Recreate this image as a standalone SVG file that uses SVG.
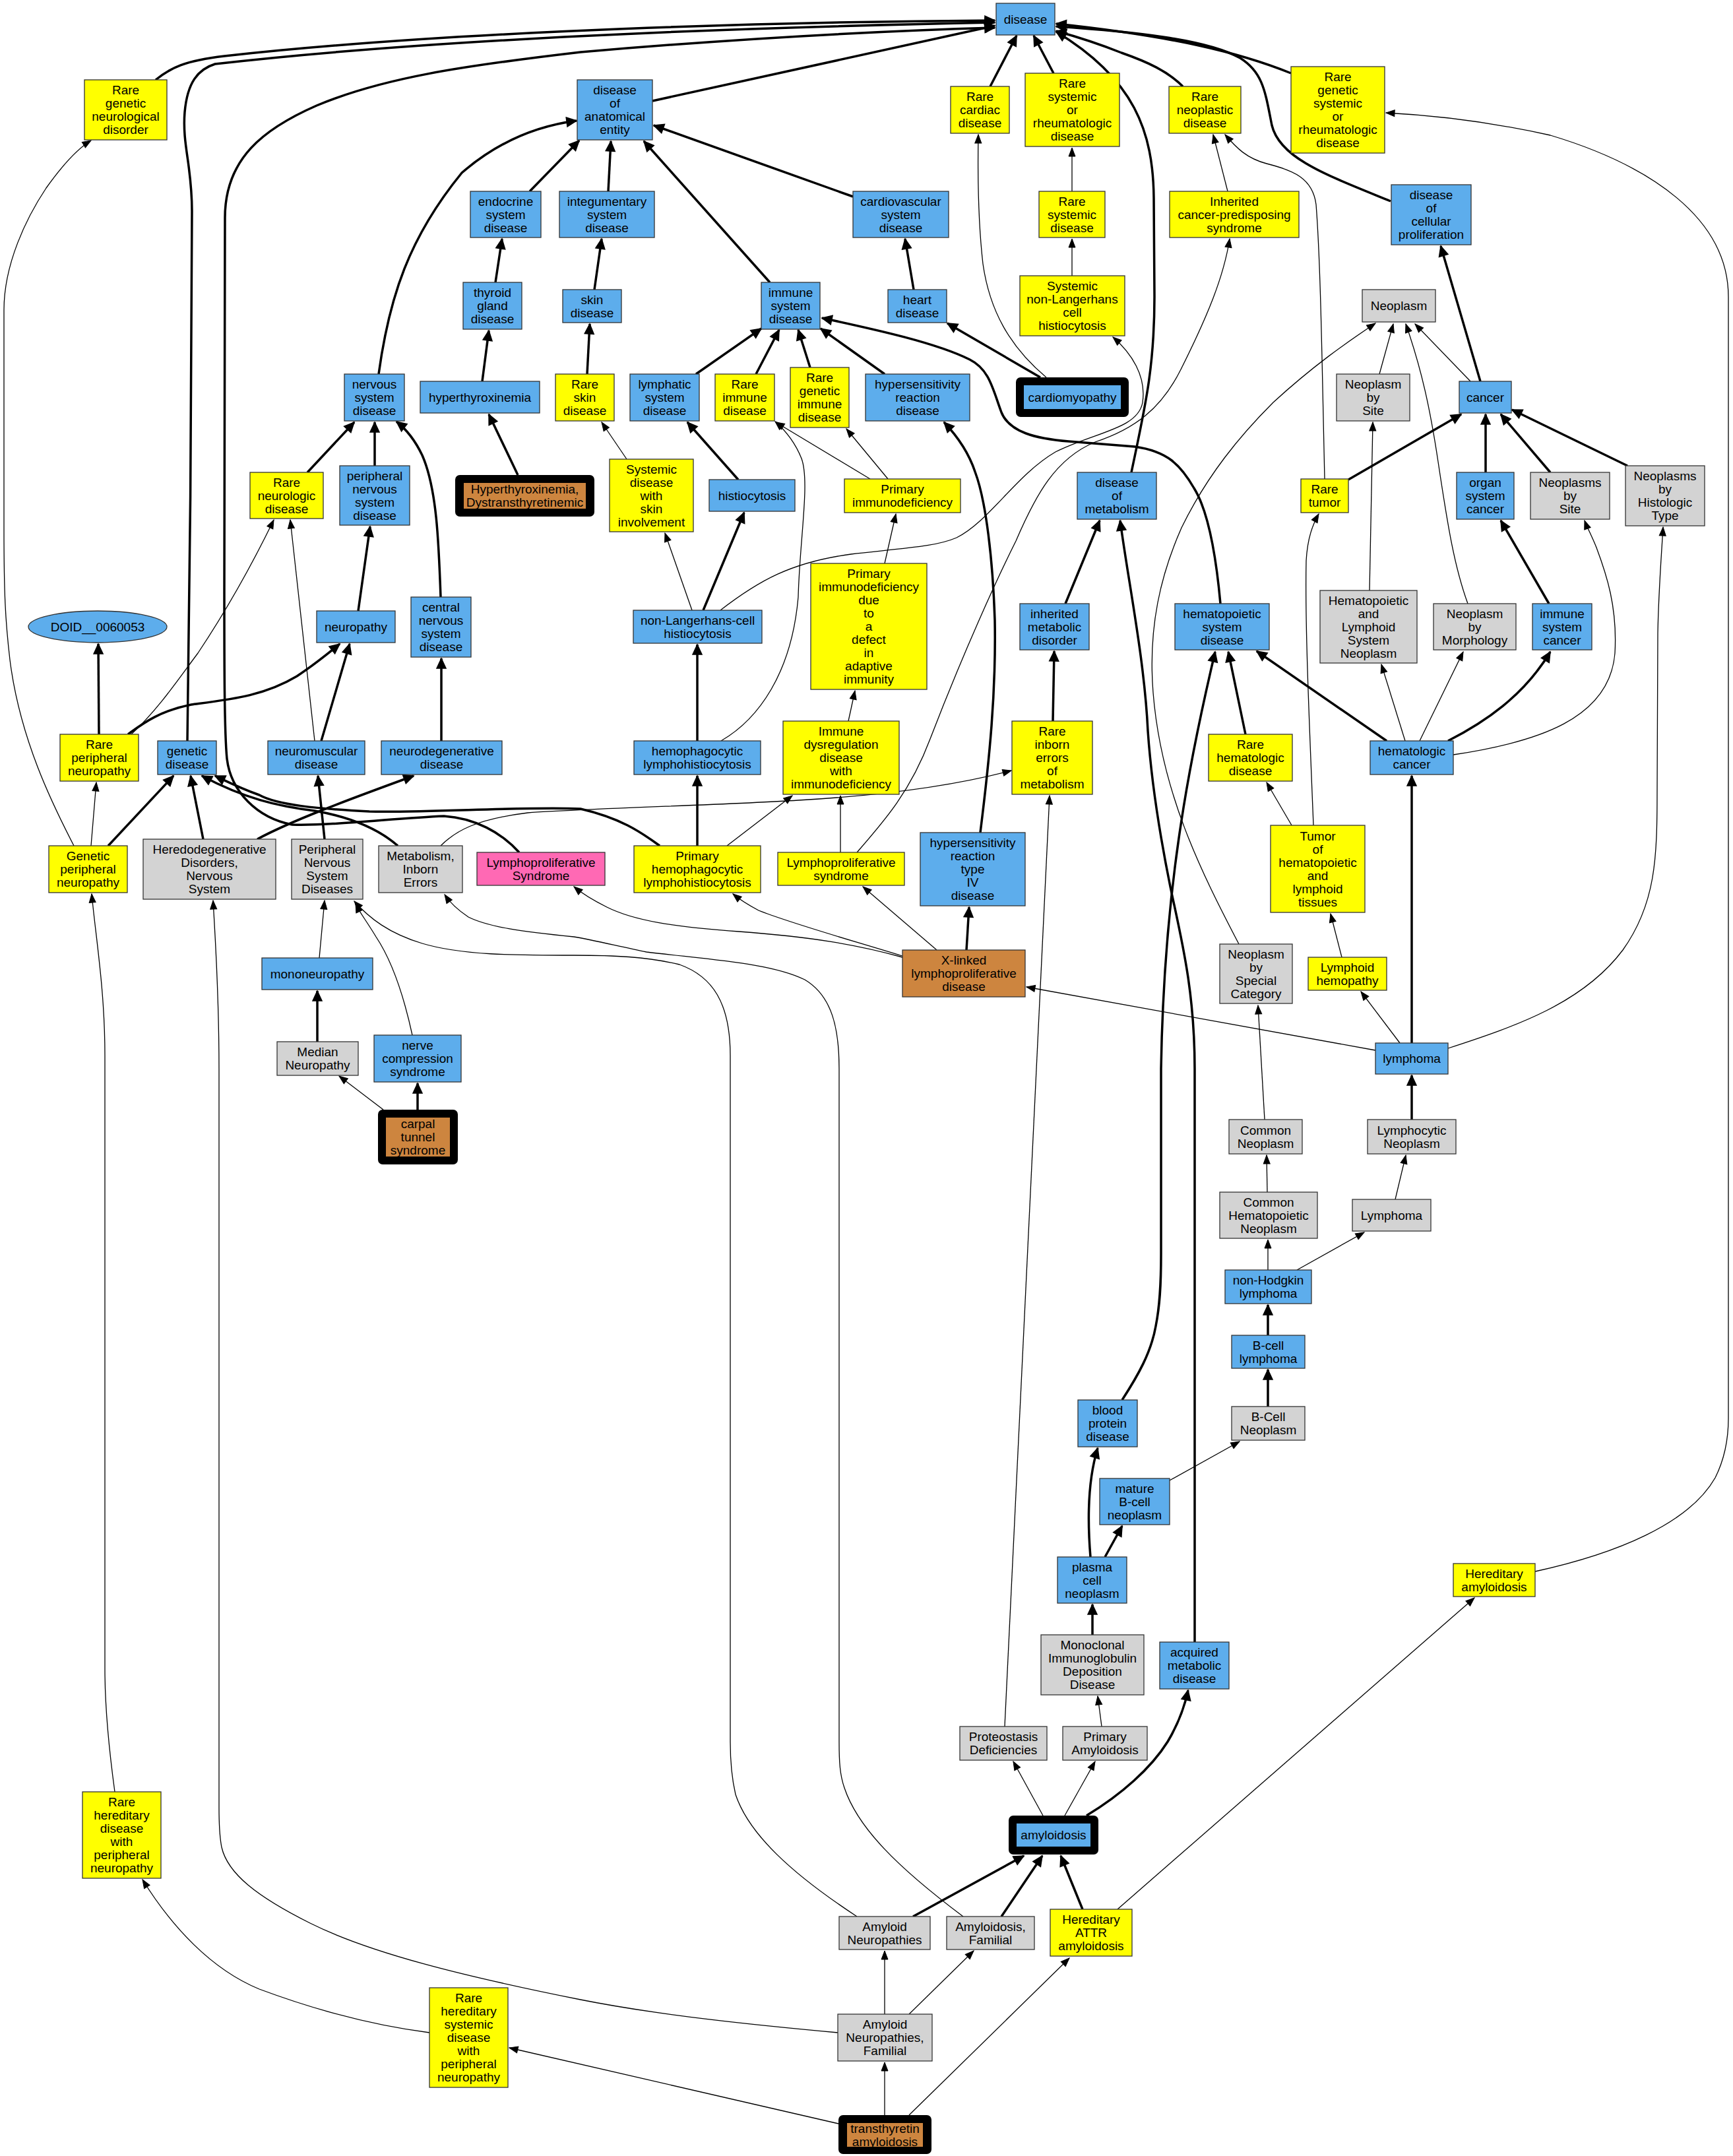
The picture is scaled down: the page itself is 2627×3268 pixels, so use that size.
<svg xmlns="http://www.w3.org/2000/svg" width="2627" height="3268" viewBox="0 0 2627 3268">
<style>
.nd rect,.nd ellipse{stroke:#333;stroke-width:1.3}
.nd rect.ni{stroke:none}
.nd rect.hl{fill:#000;stroke:none}
.b{fill:#5DADEC}.y{fill:#FFFF00}.g{fill:#D3D3D3}.o{fill:#CD853F}.p{fill:#FF69B4}
text{font-family:"Liberation Sans",Arial,Helvetica,sans-serif;font-size:19px;text-anchor:middle;fill:#000}
.e{fill:none;stroke:#000;stroke-width:1.3;marker-end:url(#ah)}
.t{fill:none;stroke:#000;stroke-width:3.5;marker-end:url(#at)}
</style>
<defs>
<marker id="ah" viewBox="-1 -7 16 14" refX="13" refY="0" markerWidth="16" markerHeight="14" markerUnits="userSpaceOnUse" orient="auto"><path d="M0,-5 L13,0 L0,5 z" fill="#000" stroke="#000" stroke-width="1"/></marker>
<marker id="at" viewBox="-2 -10 20 20" refX="15" refY="0" markerWidth="20" markerHeight="20" markerUnits="userSpaceOnUse" orient="auto"><path d="M0,-7 L15,0 L0,7 z" fill="#000" stroke="#000" stroke-width="1.5"/></marker>
</defs>
<rect x="0" y="0" width="2627" height="3268" fill="#fff"/>
<g id="edges">
<path class="t" d="M236,121 C258,103 280,92 340,85 C700,45 1200,33 1508,31"/>
<path class="t" d="M284,1123 C288,900 291,500 291,320 C291,250 276,220 280,170 C284,125 300,105 326,97 C650,60 1100,42 1508,34"/>
<path class="t" d="M787,1292 C760,1262 720,1240 673,1237 C600,1240 500,1252 443,1250 C390,1240 350,1200 344,1150 C340,1110 340,1000 340,900 L341,330 C341,240 400,195 480,160 C580,118 700,100 880,79 C1100,60 1300,48 1508,42"/>
<path class="t" d="M989,153 L1508,39"/>
<path class="t" d="M1501,131 L1541,54"/>
<path class="t" d="M1597,111 L1567,54"/>
<path class="t" d="M1793,131 C1770,108 1740,94 1700,80 C1670,68 1630,55 1601,47"/>
<path class="t" d="M2108,305 C2010,265 1940,240 1928,190 C1918,140 1915,110 1880,88 C1830,60 1720,48 1601,40"/>
<path class="t" d="M1957,111 C1880,80 1780,55 1601,36"/>
<path class="t" d="M1715,716 C1735,620 1750,560 1750,450 L1749,300 C1748,200 1720,120 1601,48"/>
<path class="t" d="M803,290 L878,213"/>
<path class="t" d="M922,290 L926,214"/>
<path class="t" d="M1167,428 L976,214"/>
<path class="t" d="M1293,298 L991,190"/>
<path class="t" d="M574,567 C590,450 620,360 700,262 C760,210 820,190 874,183"/>
<path class="t" d="M751,428 L761,362"/>
<path class="t" d="M731,578 L741,501"/>
<path class="t" d="M785,720 L741,628"/>
<path class="t" d="M901,439 L912,362"/>
<path class="t" d="M890,567 L894,491"/>
<path class="t" d="M1385,439 L1372,362"/>
<path class="t" d="M1577,572 L1436,490"/>
<path class="t" d="M1055,567 L1154,498"/>
<path class="t" d="M1146,567 L1181,500"/>
<path class="t" d="M1228,557 L1210,500"/>
<path class="t" d="M1341,567 L1244,498"/>
<path class="t" d="M1850,915 C1845,860 1835,780 1810,740 C1790,705 1770,684 1720,677 L1620,669 C1570,665 1530,655 1518,625 C1505,590 1500,560 1470,545 C1420,520 1330,500 1246,482"/>
<path class="t" d="M1119,727 L1042,640"/>
<path class="t" d="M1066,925 L1128,777"/>
<path class="t" d="M1057,1123 L1057,977"/>
<path class="t" d="M1057,1282 L1057,1176"/>
<path class="t" d="M1486,1262 C1500,1150 1510,1050 1508,940 C1505,850 1495,760 1478,715 C1468,685 1450,660 1431,640"/>
<path class="t" d="M1000,1282 C970,1260 940,1240 880,1226 C800,1222 650,1232 560,1230 C480,1226 420,1220 393,1205 C365,1195 345,1185 326,1176"/>
<path class="t" d="M603,1282 C580,1262 540,1240 477,1229 C420,1222 370,1210 306,1176"/>
<path class="t" d="M164,1282 L263,1176"/>
<path class="t" d="M308,1272 L289,1176"/>
<path class="t" d="M390,1272 C440,1245 520,1215 627,1176"/>
<path class="t" d="M150,1113 L149,976"/>
<path class="t" d="M194,1113 C215,1098 240,1078 290,1068 C350,1060 400,1055 450,1025 C480,1005 500,988 515,976"/>
<path class="t" d="M487,1123 L530,976"/>
<path class="t" d="M492,1272 L482,1176"/>
<path class="t" d="M543,926 L561,798"/>
<path class="t" d="M668,905 C665,820 662,740 640,690 C628,665 615,650 601,639"/>
<path class="t" d="M568,706 L568,640"/>
<path class="t" d="M466,716 L537,640"/>
<path class="t" d="M669,1123 L669,998"/>
<path class="t" d="M481,1579 L481,1502"/>
<path class="t" d="M633,1682 L633,1642"/>
<path class="t" d="M2244,578 L2184,373"/>
<path class="t" d="M2044,727 L2215,628"/>
<path class="t" d="M2252,716 L2252,628"/>
<path class="t" d="M2350,716 L2275,628"/>
<path class="t" d="M2467,706 L2292,621"/>
<path class="t" d="M2348,915 L2275,789"/>
<path class="t" d="M2102,1123 L1905,987"/>
<path class="t" d="M2195,1123 C2250,1095 2310,1055 2350,988"/>
<path class="t" d="M1888,1113 L1862,988"/>
<path class="t" d="M2140,1581 L2140,1176"/>
<path class="t" d="M2140,1697 L2140,1630"/>
<path class="t" d="M1922,2024 L1922,1978"/>
<path class="t" d="M1922,2132 L1922,2076"/>
<path class="t" d="M1701,2122 C1725,2085 1745,2050 1752,2010 C1758,1980 1760,1950 1760,1900 L1760,1620 C1762,1500 1770,1380 1790,1250 C1805,1150 1825,1060 1842,988"/>
<path class="t" d="M1811,2489 L1811,1620 C1811,1500 1790,1420 1774,1344 C1755,1250 1745,1180 1740,1108 C1735,1000 1710,880 1698,789"/>
<path class="t" d="M1596,1093 L1598,987"/>
<path class="t" d="M1615,915 L1667,789"/>
<path class="t" d="M1465,1440 L1469,1375"/>
<path class="t" d="M1675,2360 L1701,2313"/>
<path class="t" d="M1653,2360 C1648,2300 1650,2240 1664,2195"/>
<path class="t" d="M1656,2478 L1656,2432"/>
<path class="t" d="M1647,2752 C1700,2720 1745,2680 1770,2640 C1785,2615 1795,2590 1801,2562"/>
<path class="t" d="M1384,2905 L1552,2813"/>
<path class="t" d="M1518,2905 L1580,2813"/>
<path class="t" d="M1641,2894 L1608,2813"/>
<path class="e" d="M1586,572 C1530,525 1500,470 1490,400 C1482,330 1482,260 1483,204"/>
<path class="e" d="M1625,290 L1625,224"/>
<path class="e" d="M1625,418 L1625,362"/>
<path class="e" d="M1092,925 C1150,880 1200,852 1290,840 C1380,830 1420,828 1450,815 C1500,790 1540,720 1600,685 C1660,655 1725,650 1732,610 C1738,570 1715,535 1687,511"/>
<path class="e" d="M1299,1292 C1340,1245 1380,1200 1410,1120 C1460,990 1510,880 1540,820 C1570,750 1600,695 1660,670 C1720,650 1760,620 1790,560 C1830,480 1855,420 1864,362"/>
<path class="e" d="M950,696 L912,640"/>
<path class="e" d="M1319,726 L1176,640"/>
<path class="e" d="M1346,726 L1283,650"/>
<path class="e" d="M1093,1123 C1150,1090 1200,1020 1210,905 C1212,820 1228,730 1215,695 C1205,670 1190,652 1175,639"/>
<path class="e" d="M1341,854 L1358,779"/>
<path class="e" d="M1049,925 L1008,808"/>
<path class="e" d="M1102,1282 L1201,1206"/>
<path class="e" d="M1286,1093 L1296,1047"/>
<path class="e" d="M1274,1292 L1274,1206"/>
<path class="e" d="M668,1282 C690,1260 720,1242 800,1232 C900,1225 1100,1220 1210,1213 C1350,1205 1450,1190 1533,1168"/>
<path class="e" d="M1420,1440 L1308,1344"/>
<path class="e" d="M1368,1449 C1290,1425 1200,1400 1150,1380 C1135,1372 1122,1364 1111,1355"/>
<path class="e" d="M1368,1451 C1300,1432 1230,1420 1120,1412 C1020,1405 960,1395 920,1375 C900,1365 882,1354 870,1344"/>
<path class="e" d="M2085,1592 L1556,1496"/>
<path class="e" d="M1299,2905 C1200,2840 1135,2780 1115,2720 C1108,2690 1107,2660 1107,2640 L1107,1600 C1107,1520 1080,1480 1030,1462 C980,1450 930,1448 870,1448 C780,1448 700,1448 640,1430 C590,1415 560,1392 537,1366"/>
<path class="e" d="M1460,2905 C1360,2830 1300,2770 1280,2710 C1273,2690 1272,2670 1272,2640 L1272,1620 C1272,1560 1262,1510 1220,1485 C1170,1460 1080,1455 980,1443 C940,1435 900,1425 870,1420 C790,1412 740,1405 710,1390 C695,1380 682,1368 674,1356"/>
<path class="e" d="M1270,3081 C1150,3070 1000,3055 880,3031 C700,2995 560,2960 470,2915 C390,2875 345,2840 336,2800 C333,2785 332,2770 332,2740 L332,1620 C332,1500 326,1420 323,1365"/>
<path class="e" d="M1271,3219 L772,3104"/>
<path class="e" d="M651,3081 C550,3068 460,3040 393,3015 C320,2985 260,2920 216,2849"/>
<path class="e" d="M174,2716 C165,2650 159,2580 159,2530 L159,1600 C159,1500 145,1420 139,1355"/>
<path class="e" d="M112,1282 C80,1220 30,1120 15,1000 C8,940 6,900 6,800 L6,470 C6,400 40,330 70,285 C95,250 118,225 138,213"/>
<path class="e" d="M138,1282 L146,1186"/>
<path class="e" d="M199,1113 C240,1075 270,1030 300,990 C340,930 380,860 415,788"/>
<path class="e" d="M477,1123 L440,788"/>
<path class="e" d="M484,1452 L492,1365"/>
<path class="e" d="M625,1569 C610,1500 590,1450 570,1420 C555,1395 545,1383 539,1370"/>
<path class="e" d="M581,1682 L514,1631"/>
<path class="e" d="M1861,290 L1839,204"/>
<path class="e" d="M2008,726 C2004,550 2002,400 1995,310 C1990,270 1960,258 1920,248 C1890,240 1875,225 1857,204"/>
<path class="e" d="M2229,578 L2145,491"/>
<path class="e" d="M2091,567 L2112,491"/>
<path class="e" d="M2225,915 C2205,860 2195,800 2180,700 C2168,620 2155,560 2131,491"/>
<path class="e" d="M1878,1431 C1820,1320 1760,1200 1748,1050 C1740,950 1760,870 1791,800 C1830,720 1880,660 1930,610 C1990,555 2040,520 2085,490"/>
<path class="e" d="M2076,895 L2081,640"/>
<path class="e" d="M2203,1144 C2330,1125 2440,1090 2448,990 C2452,920 2435,870 2420,830 C2412,810 2406,800 2402,789"/>
<path class="e" d="M2195,1589 C2300,1555 2400,1520 2460,1440 C2510,1370 2512,1300 2512,1200 L2513,960 C2514,900 2518,850 2521,799"/>
<path class="e" d="M2130,1123 L2094,1007"/>
<path class="e" d="M2152,1123 L2218,988"/>
<path class="e" d="M1958,1251 L1920,1186"/>
<path class="e" d="M1991,1251 C1985,1100 1978,950 1980,850 C1982,815 1990,795 1999,779"/>
<path class="e" d="M2034,1451 L2017,1385"/>
<path class="e" d="M2122,1581 L2063,1503"/>
<path class="e" d="M1917,1697 L1907,1524"/>
<path class="e" d="M1921,1807 L1920,1751"/>
<path class="e" d="M2115,1818 L2131,1751"/>
<path class="e" d="M1922,1925 L1922,1879"/>
<path class="e" d="M1966,1925 L2068,1868"/>
<path class="e" d="M1773,2244 L1879,2185"/>
<path class="e" d="M1670,2617 L1664,2571"/>
<path class="e" d="M1581,2752 L1536,2670"/>
<path class="e" d="M1614,2752 L1660,2670"/>
<path class="e" d="M1523,2617 L1591,1206"/>
<path class="e" d="M1694,2894 L2235,2422"/>
<path class="e" d="M2327,2382 C2450,2355 2560,2310 2600,2240 C2615,2210 2620,2180 2620,2150 L2620,450 C2620,330 2500,250 2350,205 C2260,185 2180,175 2101,171"/>
<path class="e" d="M1341,3206 L1341,3126"/>
<path class="e" d="M1378,3206 L1621,2968"/>
<path class="e" d="M1341,3053 L1341,2957"/>
<path class="e" d="M1378,3053 L1476,2957"/>
</g>
<g id="nodes">
<g id="n1" class="nd"><rect class="b" x="1510" y="5" width="89" height="48"/><text x="1554.5" y="35.7">disease</text></g>
<g id="n2" class="nd"><rect class="b" x="875" y="121" width="114" height="91"/><text x="932"><tspan x="932" y="143.2">disease</tspan><tspan x="932" y="163.2">of</tspan><tspan x="932" y="183.2">anatomical</tspan><tspan x="932" y="203.2">entity</tspan></text></g>
<g id="n3" class="nd"><rect class="y" x="128" y="121" width="125" height="91"/><text x="190.5"><tspan x="190.5" y="143.2">Rare</tspan><tspan x="190.5" y="163.2">genetic</tspan><tspan x="190.5" y="183.2">neurological</tspan><tspan x="190.5" y="203.2">disorder</tspan></text></g>
<g id="n4" class="nd"><rect class="y" x="1441" y="131" width="89" height="71"/><text><tspan x="1485.5" y="153.2">Rare</tspan><tspan x="1485.5" y="173.2">cardiac</tspan><tspan x="1485.5" y="193.2">disease</tspan></text></g>
<g id="n5" class="nd"><rect class="y" x="1554" y="111" width="143" height="111"/><text><tspan x="1625.5" y="133.2">Rare</tspan><tspan x="1625.5" y="153.2">systemic</tspan><tspan x="1625.5" y="173.2">or</tspan><tspan x="1625.5" y="193.2">rheumatologic</tspan><tspan x="1625.5" y="213.2">disease</tspan></text></g>
<g id="n6" class="nd"><rect class="y" x="1772" y="131" width="109" height="71"/><text><tspan x="1826.5" y="153.2">Rare</tspan><tspan x="1826.5" y="173.2">neoplastic</tspan><tspan x="1826.5" y="193.2">disease</tspan></text></g>
<g id="n7" class="nd"><rect class="y" x="1957" y="101" width="142" height="131"/><text><tspan x="2028" y="123.2">Rare</tspan><tspan x="2028" y="143.2">genetic</tspan><tspan x="2028" y="163.2">systemic</tspan><tspan x="2028" y="183.2">or</tspan><tspan x="2028" y="203.2">rheumatologic</tspan><tspan x="2028" y="223.2">disease</tspan></text></g>
<g id="n8" class="nd"><rect class="b" x="713" y="290" width="107" height="70"/><text><tspan x="766.5" y="311.7">endocrine</tspan><tspan x="766.5" y="331.7">system</tspan><tspan x="766.5" y="351.7">disease</tspan></text></g>
<g id="n9" class="nd"><rect class="b" x="848" y="290" width="144" height="70"/><text><tspan x="920" y="311.7">integumentary</tspan><tspan x="920" y="331.7">system</tspan><tspan x="920" y="351.7">disease</tspan></text></g>
<g id="n10" class="nd"><rect class="b" x="1293" y="290" width="145" height="70"/><text><tspan x="1365.5" y="311.7">cardiovascular</tspan><tspan x="1365.5" y="331.7">system</tspan><tspan x="1365.5" y="351.7">disease</tspan></text></g>
<g id="n11" class="nd"><rect class="y" x="1575" y="290" width="100" height="70"/><text><tspan x="1625" y="311.7">Rare</tspan><tspan x="1625" y="331.7">systemic</tspan><tspan x="1625" y="351.7">disease</tspan></text></g>
<g id="n12" class="nd"><rect class="y" x="1773" y="290" width="196" height="70"/><text><tspan x="1871" y="311.7">Inherited</tspan><tspan x="1871" y="331.7">cancer-predisposing</tspan><tspan x="1871" y="351.7">syndrome</tspan></text></g>
<g id="n13" class="nd"><rect class="b" x="2109" y="280" width="121" height="91"/><text><tspan x="2169.5" y="302.2">disease</tspan><tspan x="2169.5" y="322.2">of</tspan><tspan x="2169.5" y="342.2">cellular</tspan><tspan x="2169.5" y="362.2">proliferation</tspan></text></g>
<g id="n14" class="nd"><rect class="b" x="702" y="428" width="89" height="71"/><text><tspan x="746.5" y="450.2">thyroid</tspan><tspan x="746.5" y="470.2">gland</tspan><tspan x="746.5" y="490.2">disease</tspan></text></g>
<g id="n15" class="nd"><rect class="b" x="853" y="439" width="89" height="50"/><text><tspan x="897.5" y="460.7">skin</tspan><tspan x="897.5" y="480.7">disease</tspan></text></g>
<g id="n16" class="nd"><rect class="b" x="1154" y="428" width="89" height="71"/><text><tspan x="1198.5" y="450.2">immune</tspan><tspan x="1198.5" y="470.2">system</tspan><tspan x="1198.5" y="490.2">disease</tspan></text></g>
<g id="n17" class="nd"><rect class="b" x="1346" y="439" width="89" height="50"/><text><tspan x="1390.5" y="460.7">heart</tspan><tspan x="1390.5" y="480.7">disease</tspan></text></g>
<g id="n18" class="nd"><rect class="y" x="1546" y="418" width="159" height="91"/><text><tspan x="1625.5" y="440.2">Systemic</tspan><tspan x="1625.5" y="460.2">non-Langerhans</tspan><tspan x="1625.5" y="480.2">cell</tspan><tspan x="1625.5" y="500.2">histiocytosis</tspan></text></g>
<g id="n19" class="nd"><rect class="g" x="2065" y="439" width="111" height="49"/><text x="2120.5" y="470.2">Neoplasm</text></g>
<g id="n20" class="nd"><rect class="b" x="522" y="567" width="91" height="71"/><text><tspan x="567.5" y="589.2">nervous</tspan><tspan x="567.5" y="609.2">system</tspan><tspan x="567.5" y="629.2">disease</tspan></text></g>
<g id="n21" class="nd"><rect class="b" x="637" y="578" width="181" height="48"/><text x="727.5" y="608.7">hyperthyroxinemia</text></g>
<g id="n22" class="nd"><rect class="y" x="842" y="567" width="89" height="71"/><text><tspan x="886.5" y="589.2">Rare</tspan><tspan x="886.5" y="609.2">skin</tspan><tspan x="886.5" y="629.2">disease</tspan></text></g>
<g id="n23" class="nd"><rect class="b" x="955" y="567" width="105" height="71"/><text><tspan x="1007.5" y="589.2">lymphatic</tspan><tspan x="1007.5" y="609.2">system</tspan><tspan x="1007.5" y="629.2">disease</tspan></text></g>
<g id="n24" class="nd"><rect class="y" x="1084" y="567" width="90" height="71"/><text><tspan x="1129" y="589.2">Rare</tspan><tspan x="1129" y="609.2">immune</tspan><tspan x="1129" y="629.2">disease</tspan></text></g>
<g id="n25" class="nd"><rect class="y" x="1198" y="557" width="89" height="91"/><text><tspan x="1242.5" y="579.2">Rare</tspan><tspan x="1242.5" y="599.2">genetic</tspan><tspan x="1242.5" y="619.2">immune</tspan><tspan x="1242.5" y="639.2">disease</tspan></text></g>
<g id="n26" class="nd"><rect class="b" x="1312" y="567" width="158" height="71"/><text><tspan x="1391" y="589.2">hypersensitivity</tspan><tspan x="1391" y="609.2">reaction</tspan><tspan x="1391" y="629.2">disease</tspan></text></g>
<g id="n27" class="nd"><rect class="hl" x="1540" y="572" width="171" height="60" rx="7"/><rect class="b ni" x="1552" y="584" width="147" height="36"/><text x="1625.5" y="608.7">cardiomyopathy</text></g>
<g id="n28" class="nd"><rect class="g" x="2026" y="567" width="111" height="71"/><text><tspan x="2081.5" y="589.2">Neoplasm</tspan><tspan x="2081.5" y="609.2">by</tspan><tspan x="2081.5" y="629.2">Site</tspan></text></g>
<g id="n29" class="nd"><rect class="b" x="2212" y="578" width="79" height="48"/><text x="2251.5" y="608.7">cancer</text></g>
<g id="n30" class="nd"><rect class="y" x="379" y="716" width="111" height="70"/><text><tspan x="434.5" y="737.7">Rare</tspan><tspan x="434.5" y="757.7">neurologic</tspan><tspan x="434.5" y="777.7">disease</tspan></text></g>
<g id="n31" class="nd"><rect class="b" x="515" y="706" width="106" height="90"/><text><tspan x="568" y="727.7">peripheral</tspan><tspan x="568" y="747.7">nervous</tspan><tspan x="568" y="767.7">system</tspan><tspan x="568" y="787.7">disease</tspan></text></g>
<g id="n32" class="nd"><rect class="hl" x="690" y="720" width="211" height="63" rx="7"/><rect class="o ni" x="703" y="732" width="185" height="39"/><text><tspan x="795.5" y="748.2">Hyperthyroxinemia,</tspan><tspan x="795.5" y="768.2">Dystransthyretinemic</tspan></text></g>
<g id="n33" class="nd"><rect class="y" x="924" y="696" width="127" height="110"/><text><tspan x="987.5" y="717.7">Systemic</tspan><tspan x="987.5" y="737.7">disease</tspan><tspan x="987.5" y="757.7">with</tspan><tspan x="987.5" y="777.7">skin</tspan><tspan x="987.5" y="797.7">involvement</tspan></text></g>
<g id="n34" class="nd"><rect class="b" x="1075" y="727" width="130" height="48"/><text x="1140" y="757.7">histiocytosis</text></g>
<g id="n35" class="nd"><rect class="y" x="1280" y="726" width="176" height="51"/><text><tspan x="1368" y="748.2">Primary</tspan><tspan x="1368" y="768.2">immunodeficiency</tspan></text></g>
<g id="n36" class="nd"><rect class="b" x="1633" y="716" width="120" height="71"/><text><tspan x="1693" y="738.2">disease</tspan><tspan x="1693" y="758.2">of</tspan><tspan x="1693" y="778.2">metabolism</tspan></text></g>
<g id="n37" class="nd"><rect class="y" x="1972" y="726" width="72" height="51"/><text><tspan x="2008" y="748.2">Rare</tspan><tspan x="2008" y="768.2">tumor</tspan></text></g>
<g id="n38" class="nd"><rect class="b" x="2208" y="716" width="87" height="71"/><text><tspan x="2251.5" y="738.2">organ</tspan><tspan x="2251.5" y="758.2">system</tspan><tspan x="2251.5" y="778.2">cancer</tspan></text></g>
<g id="n39" class="nd"><rect class="g" x="2320" y="716" width="120" height="71"/><text><tspan x="2380" y="738.2">Neoplasms</tspan><tspan x="2380" y="758.2">by</tspan><tspan x="2380" y="778.2">Site</tspan></text></g>
<g id="n40" class="nd"><rect class="g" x="2464" y="706" width="120" height="91"/><text><tspan x="2524" y="728.2">Neoplasms</tspan><tspan x="2524" y="748.2">by</tspan><tspan x="2524" y="768.2">Histologic</tspan><tspan x="2524" y="788.2">Type</tspan></text></g>
<g id="n41" class="nd"><ellipse class="b" cx="148" cy="950" rx="105" ry="24"/><text x="148" y="956.7">DOID__0060053</text></g>
<g id="n42" class="nd"><rect class="b" x="480" y="926" width="119" height="48"/><text x="539.5" y="956.7">neuropathy</text></g>
<g id="n43" class="nd"><rect class="b" x="623" y="905" width="91" height="91"/><text><tspan x="668.5" y="927.2">central</tspan><tspan x="668.5" y="947.2">nervous</tspan><tspan x="668.5" y="967.2">system</tspan><tspan x="668.5" y="987.2">disease</tspan></text></g>
<g id="n44" class="nd"><rect class="b" x="960" y="925" width="195" height="50"/><text><tspan x="1057.5" y="946.7">non-Langerhans-cell</tspan><tspan x="1057.5" y="966.7">histiocytosis</tspan></text></g>
<g id="n45" class="nd"><rect class="y" x="1229" y="854" width="176" height="191"/><text><tspan x="1317" y="876.2">Primary</tspan><tspan x="1317" y="896.2">immunodeficiency</tspan><tspan x="1317" y="916.2">due</tspan><tspan x="1317" y="936.2">to</tspan><tspan x="1317" y="956.2">a</tspan><tspan x="1317" y="976.2">defect</tspan><tspan x="1317" y="996.2">in</tspan><tspan x="1317" y="1016.2">adaptive</tspan><tspan x="1317" y="1036.2">immunity</tspan></text></g>
<g id="n46" class="nd"><rect class="b" x="1546" y="915" width="105" height="70"/><text><tspan x="1598.5" y="936.7">inherited</tspan><tspan x="1598.5" y="956.7">metabolic</tspan><tspan x="1598.5" y="976.7">disorder</tspan></text></g>
<g id="n47" class="nd"><rect class="b" x="1781" y="915" width="143" height="70"/><text><tspan x="1852.5" y="936.7">hematopoietic</tspan><tspan x="1852.5" y="956.7">system</tspan><tspan x="1852.5" y="976.7">disease</tspan></text></g>
<g id="n48" class="nd"><rect class="g" x="2001" y="895" width="147" height="110"/><text><tspan x="2074.5" y="916.7">Hematopoietic</tspan><tspan x="2074.5" y="936.7">and</tspan><tspan x="2074.5" y="956.7">Lymphoid</tspan><tspan x="2074.5" y="976.7">System</tspan><tspan x="2074.5" y="996.7">Neoplasm</tspan></text></g>
<g id="n49" class="nd"><rect class="g" x="2173" y="915" width="125" height="70"/><text><tspan x="2235.5" y="936.7">Neoplasm</tspan><tspan x="2235.5" y="956.7">by</tspan><tspan x="2235.5" y="976.7">Morphology</tspan></text></g>
<g id="n50" class="nd"><rect class="b" x="2323" y="915" width="90" height="70"/><text><tspan x="2368" y="936.7">immune</tspan><tspan x="2368" y="956.7">system</tspan><tspan x="2368" y="976.7">cancer</tspan></text></g>
<g id="n51" class="nd"><rect class="y" x="91" y="1113" width="119" height="71"/><text><tspan x="150.5" y="1135.2">Rare</tspan><tspan x="150.5" y="1155.2">peripheral</tspan><tspan x="150.5" y="1175.2">neuropathy</tspan></text></g>
<g id="n52" class="nd"><rect class="b" x="239" y="1123" width="89" height="51"/><text><tspan x="283.5" y="1145.2">genetic</tspan><tspan x="283.5" y="1165.2">disease</tspan></text></g>
<g id="n53" class="nd"><rect class="b" x="406" y="1123" width="147" height="51"/><text><tspan x="479.5" y="1145.2">neuromuscular</tspan><tspan x="479.5" y="1165.2">disease</tspan></text></g>
<g id="n54" class="nd"><rect class="b" x="578" y="1123" width="183" height="51"/><text><tspan x="669.5" y="1145.2">neurodegenerative</tspan><tspan x="669.5" y="1165.2">disease</tspan></text></g>
<g id="n55" class="nd"><rect class="b" x="961" y="1123" width="192" height="51"/><text><tspan x="1057" y="1145.2">hemophagocytic</tspan><tspan x="1057" y="1165.2">lymphohistiocytosis</tspan></text></g>
<g id="n56" class="nd"><rect class="y" x="1187" y="1093" width="176" height="111"/><text><tspan x="1275" y="1115.2">Immune</tspan><tspan x="1275" y="1135.2">dysregulation</tspan><tspan x="1275" y="1155.2">disease</tspan><tspan x="1275" y="1175.2">with</tspan><tspan x="1275" y="1195.2">immunodeficiency</tspan></text></g>
<g id="n57" class="nd"><rect class="y" x="1534" y="1093" width="122" height="111"/><text><tspan x="1595" y="1115.2">Rare</tspan><tspan x="1595" y="1135.2">inborn</tspan><tspan x="1595" y="1155.2">errors</tspan><tspan x="1595" y="1175.2">of</tspan><tspan x="1595" y="1195.2">metabolism</tspan></text></g>
<g id="n58" class="nd"><rect class="y" x="1832" y="1113" width="127" height="71"/><text><tspan x="1895.5" y="1135.2">Rare</tspan><tspan x="1895.5" y="1155.2">hematologic</tspan><tspan x="1895.5" y="1175.2">disease</tspan></text></g>
<g id="n59" class="nd"><rect class="b" x="2077" y="1123" width="126" height="51"/><text><tspan x="2140" y="1145.2">hematologic</tspan><tspan x="2140" y="1165.2">cancer</tspan></text></g>
<g id="n60" class="nd"><rect class="y" x="74" y="1282" width="119" height="71"/><text><tspan x="133.5" y="1304.2">Genetic</tspan><tspan x="133.5" y="1324.2">peripheral</tspan><tspan x="133.5" y="1344.2">neuropathy</tspan></text></g>
<g id="n61" class="nd"><rect class="g" x="217" y="1272" width="201" height="91"/><text><tspan x="317.5" y="1294.2">Heredodegenerative</tspan><tspan x="317.5" y="1314.2">Disorders,</tspan><tspan x="317.5" y="1334.2">Nervous</tspan><tspan x="317.5" y="1354.2">System</tspan></text></g>
<g id="n62" class="nd"><rect class="g" x="442" y="1272" width="108" height="91"/><text><tspan x="496" y="1294.2">Peripheral</tspan><tspan x="496" y="1314.2">Nervous</tspan><tspan x="496" y="1334.2">System</tspan><tspan x="496" y="1354.2">Diseases</tspan></text></g>
<g id="n63" class="nd"><rect class="g" x="574" y="1282" width="127" height="71"/><text><tspan x="637.5" y="1304.2">Metabolism,</tspan><tspan x="637.5" y="1324.2">Inborn</tspan><tspan x="637.5" y="1344.2">Errors</tspan></text></g>
<g id="n64" class="nd"><rect class="p" x="723" y="1292" width="194" height="50"/><text><tspan x="820" y="1313.7">Lymphoproliferative</tspan><tspan x="820" y="1333.7">Syndrome</tspan></text></g>
<g id="n65" class="nd"><rect class="y" x="961" y="1282" width="192" height="71"/><text><tspan x="1057" y="1304.2">Primary</tspan><tspan x="1057" y="1324.2">hemophagocytic</tspan><tspan x="1057" y="1344.2">lymphohistiocytosis</tspan></text></g>
<g id="n66" class="nd"><rect class="y" x="1179" y="1292" width="192" height="50"/><text><tspan x="1275" y="1313.7">Lymphoproliferative</tspan><tspan x="1275" y="1333.7">syndrome</tspan></text></g>
<g id="n67" class="nd"><rect class="b" x="1395" y="1262" width="159" height="111"/><text><tspan x="1474.5" y="1284.2">hypersensitivity</tspan><tspan x="1474.5" y="1304.2">reaction</tspan><tspan x="1474.5" y="1324.2">type</tspan><tspan x="1474.5" y="1344.2">IV</tspan><tspan x="1474.5" y="1364.2">disease</tspan></text></g>
<g id="n68" class="nd"><rect class="y" x="1926" y="1251" width="143" height="132"/><text><tspan x="1997.5" y="1273.7">Tumor</tspan><tspan x="1997.5" y="1293.7">of</tspan><tspan x="1997.5" y="1313.7">hematopoietic</tspan><tspan x="1997.5" y="1333.7">and</tspan><tspan x="1997.5" y="1353.7">lymphoid</tspan><tspan x="1997.5" y="1373.7">tissues</tspan></text></g>
<g id="n69" class="nd"><rect class="o" x="1368" y="1440" width="186" height="71"/><text><tspan x="1461" y="1462.2">X-linked</tspan><tspan x="1461" y="1482.2">lymphoproliferative</tspan><tspan x="1461" y="1502.2">disease</tspan></text></g>
<g id="n70" class="nd"><rect class="g" x="1849" y="1431" width="110" height="90"/><text><tspan x="1904" y="1452.7">Neoplasm</tspan><tspan x="1904" y="1472.7">by</tspan><tspan x="1904" y="1492.7">Special</tspan><tspan x="1904" y="1512.7">Category</tspan></text></g>
<g id="n71" class="nd"><rect class="y" x="1983" y="1451" width="119" height="50"/><text><tspan x="2042.5" y="1472.7">Lymphoid</tspan><tspan x="2042.5" y="1492.7">hemopathy</tspan></text></g>
<g id="n72" class="nd"><rect class="b" x="397" y="1452" width="168" height="48"/><text x="481" y="1482.7">mononeuropathy</text></g>
<g id="n73" class="nd"><rect class="g" x="420" y="1579" width="123" height="51"/><text><tspan x="481.5" y="1601.2">Median</tspan><tspan x="481.5" y="1621.2">Neuropathy</tspan></text></g>
<g id="n74" class="nd"><rect class="b" x="567" y="1569" width="132" height="71"/><text><tspan x="633" y="1591.2">nerve</tspan><tspan x="633" y="1611.2">compression</tspan><tspan x="633" y="1631.2">syndrome</tspan></text></g>
<g id="n75" class="nd"><rect class="b" x="2085" y="1581" width="110" height="47"/><text x="2140" y="1611.2">lymphoma</text></g>
<g id="n76" class="nd"><rect class="hl" x="573" y="1682" width="121" height="83" rx="7"/><rect class="o ni" x="585" y="1694" width="97" height="59"/><text><tspan x="633.5" y="1710.2">carpal</tspan><tspan x="633.5" y="1730.2">tunnel</tspan><tspan x="633.5" y="1750.2">syndrome</tspan></text></g>
<g id="n77" class="nd"><rect class="g" x="1863" y="1697" width="111" height="52"/><text><tspan x="1918.5" y="1719.7">Common</tspan><tspan x="1918.5" y="1739.7">Neoplasm</tspan></text></g>
<g id="n78" class="nd"><rect class="g" x="2073" y="1697" width="134" height="52"/><text><tspan x="2140" y="1719.7">Lymphocytic</tspan><tspan x="2140" y="1739.7">Neoplasm</tspan></text></g>
<g id="n79" class="nd"><rect class="g" x="1849" y="1807" width="148" height="70"/><text><tspan x="1923" y="1828.7">Common</tspan><tspan x="1923" y="1848.7">Hematopoietic</tspan><tspan x="1923" y="1868.7">Neoplasm</tspan></text></g>
<g id="n80" class="nd"><rect class="g" x="2050" y="1818" width="119" height="48"/><text x="2109.5" y="1848.7">Lymphoma</text></g>
<g id="n81" class="nd"><rect class="b" x="1857" y="1925" width="131" height="51"/><text><tspan x="1922.5" y="1947.2">non-Hodgkin</tspan><tspan x="1922.5" y="1967.2">lymphoma</tspan></text></g>
<g id="n82" class="nd"><rect class="b" x="1867" y="2024" width="111" height="50"/><text><tspan x="1922.5" y="2045.7">B-cell</tspan><tspan x="1922.5" y="2065.7">lymphoma</tspan></text></g>
<g id="n83" class="nd"><rect class="b" x="1634" y="2122" width="90" height="71"/><text><tspan x="1679" y="2144.2">blood</tspan><tspan x="1679" y="2164.2">protein</tspan><tspan x="1679" y="2184.2">disease</tspan></text></g>
<g id="n84" class="nd"><rect class="g" x="1867" y="2132" width="111" height="51"/><text><tspan x="1922.5" y="2154.2">B-Cell</tspan><tspan x="1922.5" y="2174.2">Neoplasm</tspan></text></g>
<g id="n85" class="nd"><rect class="b" x="1667" y="2241" width="106" height="70"/><text><tspan x="1720" y="2262.7">mature</tspan><tspan x="1720" y="2282.7">B-cell</tspan><tspan x="1720" y="2302.7">neoplasm</tspan></text></g>
<g id="n86" class="nd"><rect class="b" x="1603" y="2360" width="105" height="70"/><text><tspan x="1655.5" y="2381.7">plasma</tspan><tspan x="1655.5" y="2401.7">cell</tspan><tspan x="1655.5" y="2421.7">neoplasm</tspan></text></g>
<g id="n87" class="nd"><rect class="y" x="2203" y="2370" width="124" height="50"/><text><tspan x="2265" y="2391.7">Hereditary</tspan><tspan x="2265" y="2411.7">amyloidosis</tspan></text></g>
<g id="n88" class="nd"><rect class="g" x="1578" y="2478" width="156" height="91"/><text><tspan x="1656" y="2500.2">Monoclonal</tspan><tspan x="1656" y="2520.2">Immunoglobulin</tspan><tspan x="1656" y="2540.2">Deposition</tspan><tspan x="1656" y="2560.2">Disease</tspan></text></g>
<g id="n89" class="nd"><rect class="b" x="1758" y="2489" width="105" height="71"/><text><tspan x="1810.5" y="2511.2">acquired</tspan><tspan x="1810.5" y="2531.2">metabolic</tspan><tspan x="1810.5" y="2551.2">disease</tspan></text></g>
<g id="n90" class="nd"><rect class="g" x="1455" y="2617" width="132" height="51"/><text><tspan x="1521" y="2639.2">Proteostasis</tspan><tspan x="1521" y="2659.2">Deficiencies</tspan></text></g>
<g id="n91" class="nd"><rect class="g" x="1611" y="2617" width="128" height="51"/><text><tspan x="1675" y="2639.2">Primary</tspan><tspan x="1675" y="2659.2">Amyloidosis</tspan></text></g>
<g id="n92" class="nd"><rect class="hl" x="1529" y="2752" width="136" height="59" rx="7"/><rect class="b ni" x="1541" y="2764" width="112" height="35"/><text x="1597" y="2788.2">amyloidosis</text></g>
<g id="n93" class="nd"><rect class="y" x="125" y="2716" width="119" height="131"/><text><tspan x="184.5" y="2738.2">Rare</tspan><tspan x="184.5" y="2758.2">hereditary</tspan><tspan x="184.5" y="2778.2">disease</tspan><tspan x="184.5" y="2798.2">with</tspan><tspan x="184.5" y="2818.2">peripheral</tspan><tspan x="184.5" y="2838.2">neuropathy</tspan></text></g>
<g id="n94" class="nd"><rect class="g" x="1272" y="2905" width="138" height="50"/><text><tspan x="1341" y="2926.7">Amyloid</tspan><tspan x="1341" y="2946.7">Neuropathies</tspan></text></g>
<g id="n95" class="nd"><rect class="g" x="1435" y="2905" width="133" height="50"/><text><tspan x="1501.5" y="2926.7">Amyloidosis,</tspan><tspan x="1501.5" y="2946.7">Familial</tspan></text></g>
<g id="n96" class="nd"><rect class="y" x="1592" y="2894" width="124" height="71"/><text><tspan x="1654" y="2916.2">Hereditary</tspan><tspan x="1654" y="2936.2">ATTR</tspan><tspan x="1654" y="2956.2">amyloidosis</tspan></text></g>
<g id="n97" class="nd"><rect class="y" x="651" y="3013" width="119" height="151"/><text><tspan x="710.5" y="3035.2">Rare</tspan><tspan x="710.5" y="3055.2">hereditary</tspan><tspan x="710.5" y="3075.2">systemic</tspan><tspan x="710.5" y="3095.2">disease</tspan><tspan x="710.5" y="3115.2">with</tspan><tspan x="710.5" y="3135.2">peripheral</tspan><tspan x="710.5" y="3155.2">neuropathy</tspan></text></g>
<g id="n98" class="nd"><rect class="g" x="1270" y="3053" width="143" height="71"/><text><tspan x="1341.5" y="3075.2">Amyloid</tspan><tspan x="1341.5" y="3095.2">Neuropathies,</tspan><tspan x="1341.5" y="3115.2">Familial</tspan></text></g>
<g id="n99" class="nd"><rect class="hl" x="1271" y="3206" width="141" height="59" rx="7"/><rect class="o ni" x="1284" y="3218" width="115" height="36"/><text><tspan x="1341.5" y="3232.7">transthyretin</tspan><tspan x="1341.5" y="3252.7">amyloidosis</tspan></text></g>
</g>
</svg>
